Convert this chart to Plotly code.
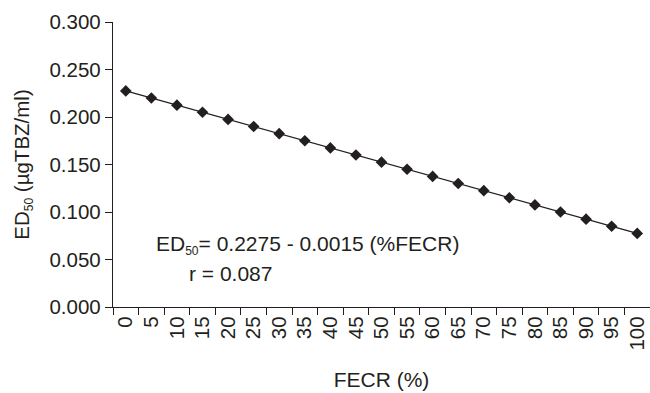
import plotly.graph_objects as go

fecr_labels = ["0", "5", "10", "15", "20", "25", "30", "35", "40", "45", "50",
               "55", "60", "65", "70", "75", "80", "85", "90", "95", "100"]
ed50_values = [0.2275, 0.2200, 0.2125, 0.2050, 0.1975, 0.1900, 0.1825, 0.1750,
               0.1675, 0.1600, 0.1525, 0.1450, 0.1375, 0.1300, 0.1225, 0.1150,
               0.1075, 0.1000, 0.0925, 0.0850, 0.0775]
y_ticks = [0.0, 0.05, 0.1, 0.15, 0.2, 0.25, 0.3]
y_tick_text = ["0.000", "0.050", "0.100", "0.150", "0.200", "0.250", "0.300"]

ink = "#231f20"
font = "Liberation Sans, Arial, sans-serif"
sub50 = "<sub><span style='font-size:12px'>50</span></sub>"

fig = go.Figure()
fig.add_trace(go.Scatter(
    x=fecr_labels, y=ed50_values, mode="lines+markers",
    line=dict(color=ink, width=1.3),
    marker=dict(symbol="diamond", size=9, color=ink),
    showlegend=False, cliponaxis=False,
))

fig.add_annotation(x=0.076, y=0.217, xref="paper", yref="paper",
                   text="ED" + sub50 + "= 0.2275 - 0.0015 (%FECR)",
                   showarrow=False, xanchor="left", yanchor="middle",
                   font=dict(family=font, size=21, color=ink))
fig.add_annotation(x=0.138, y=0.119, xref="paper", yref="paper",
                   text="r = 0.087",
                   showarrow=False, xanchor="left", yanchor="middle",
                   font=dict(family=font, size=21, color=ink))

fig.update_layout(
    width=650, height=393,
    margin=dict(l=113, r=0, t=22, b=86),
    paper_bgcolor="white", plot_bgcolor="white",
    font=dict(family=font, size=20.5, color=ink),
    xaxis=dict(
        type="category", categoryorder="array", categoryarray=fecr_labels,
        tickson="boundaries", ticks="outside", ticklen=7, tickwidth=1.3,
        tickcolor=ink, tickangle=-90,
        showline=True, linecolor=ink, linewidth=1.3,
        showgrid=False, zeroline=False,
        range=[-0.5, 20.5],
        title=dict(text="FECR (%)", standoff=22, font=dict(size=21)),
        tickfont=dict(size=20.5),
    ),
    yaxis=dict(
        range=[0, 0.3], tickvals=y_ticks, ticktext=y_tick_text,
        ticks="outside", ticklen=7, tickwidth=1.3, tickcolor=ink,
        showline=True, linecolor=ink, linewidth=1.3,
        showgrid=False, zeroline=False,
        title=dict(text="ED" + sub50 + " (µgTBZ/ml)", standoff=14, font=dict(size=20.5)),
        tickfont=dict(size=20.5),
    ),
)

fig.write_html("out.html", config={"displayModeBar": False},
               post_script="document.body.style.margin='0';")
